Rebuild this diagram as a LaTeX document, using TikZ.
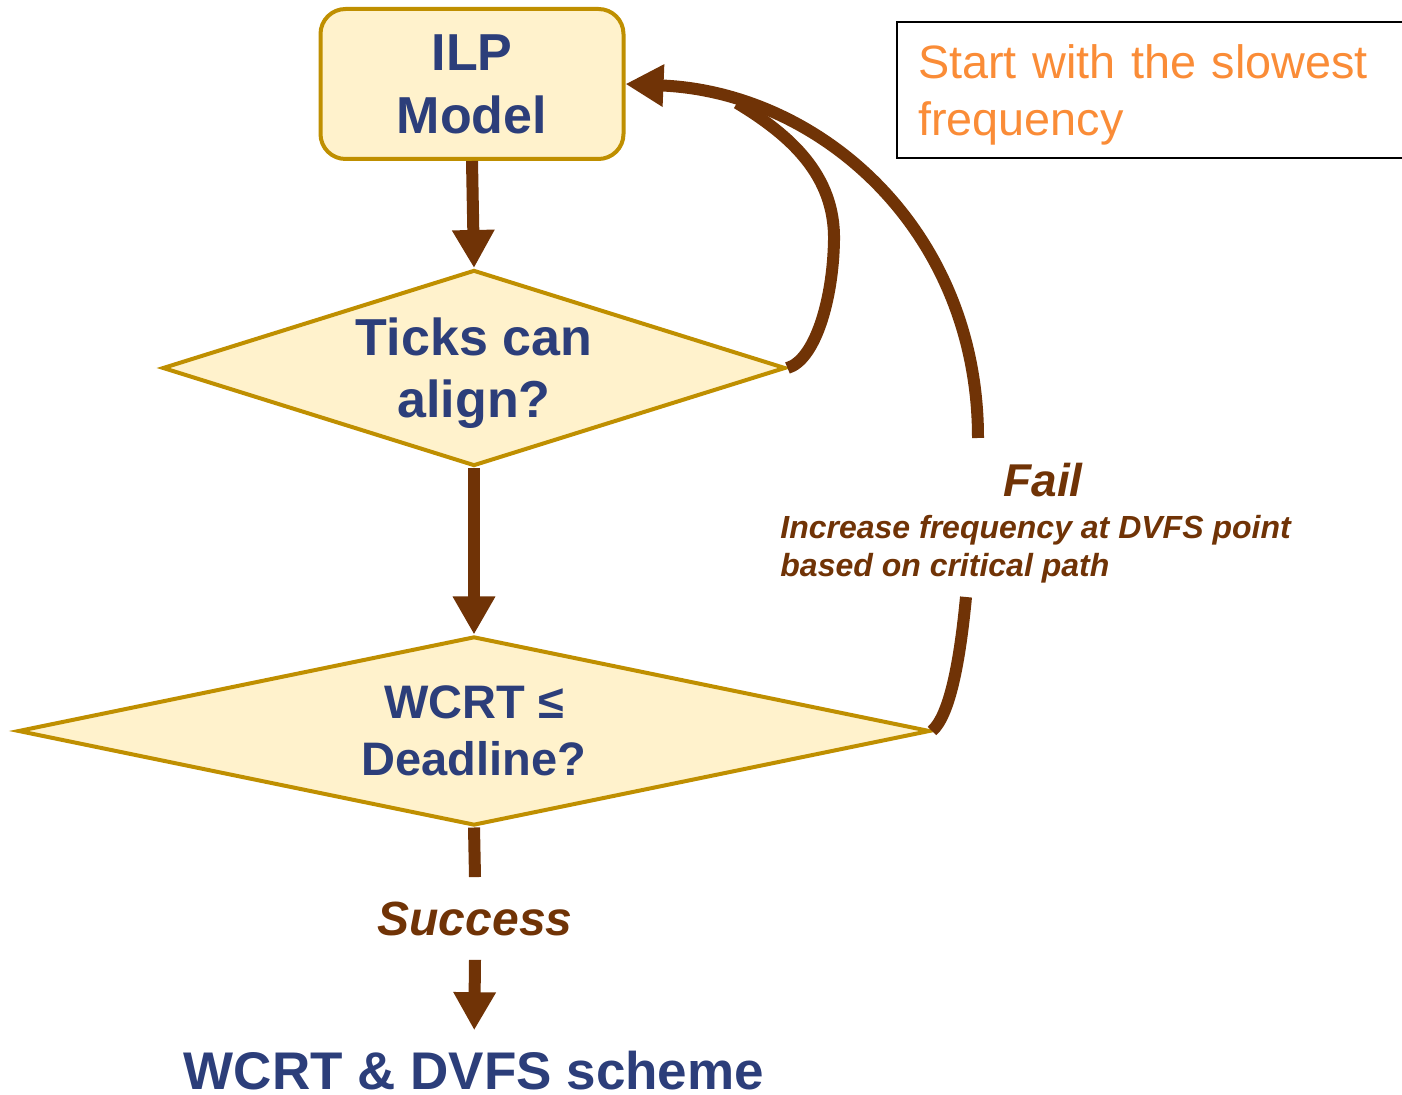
\documentclass[tikz,border=0pt]{standalone}
\usepackage{fontspec}
\setmainfont{Liberation Sans}
\usetikzlibrary{shapes.geometric,arrows.meta}
\definecolor{flowbrown}{RGB}{112,51,6}
\definecolor{boxedge}{RGB}{191,143,0}
\definecolor{boxfill}{RGB}{255,242,204}
\definecolor{labelblue}{RGB}{44,62,122}
\definecolor{noteorange}{RGB}{250,140,55}

\begin{document}
\begin{tikzpicture}[x=0.5pt,y=-0.5pt,
  flowbox/.style={draw=boxedge, fill=boxfill, line width=2pt, text=labelblue,
    align=center, inner sep=0pt},
  flowline/.style={draw=flowbrown, line width=6pt},
  flowarrow/.style={flowline, -{Triangle[length=19pt,width=20pt]}},
  brownlabel/.style={text=flowbrown},
  notebox/.style={draw=black, line width=1pt, text=noteorange, align=left,
    anchor=north west, inner xsep=10.5pt, text width=245pt,
    minimum height=68pt, font=\fontsize{23.4}{28.5}\selectfont},
  gaplabel/.style={anchor=base, inner xsep=0pt, inner ysep=12pt}
]
\useasboundingbox (0,0) rectangle (1402,1095);
\clip (0,0) rectangle (1402,1095);

% process steps
\node[flowbox, rounded corners=12.5pt, minimum width=151.5pt, minimum height=75pt,
  font=\fontsize{26}{31.5}\selectfont\bfseries] (ilp) at (472,84) {ILP\\Model};
\node[flowbox, diamond, aspect=3.18, minimum width=311.5pt, minimum height=98pt,
  text depth=0pt, font=\fontsize{26}{31}\selectfont\bfseries] (ticks) at (474,368)
  {Ticks can\\align?};
\node[flowbox, diamond, aspect=4.83, minimum width=456pt, minimum height=94.5pt,
  font=\fontsize{23.5}{28.5}\selectfont\bfseries] (wcrt) at (474,731) {WCRT ≤\\Deadline?};

% outcome labels
\node[gaplabel, brownlabel, font=\fontsize{24}{24}\selectfont\bfseries\itshape]
  (succ) at (475,935) {Success};
\node[anchor=base, inner sep=0pt, text=labelblue,
  font=\fontsize{26.5}{26.5}\selectfont\bfseries]
  (result) at (474,1089) {WCRT \& DVFS scheme};
\node[brownlabel, anchor=base, font=\fontsize{23}{23}\selectfont\bfseries\itshape]
  (failhead) at (1043,497) {Fail};
\node[brownlabel, align=left, anchor=north west, inner sep=0pt,
  font=\fontsize{16}{19}\selectfont\bfseries\itshape]
  (failnote) at (780,515) {Increase frequency at DVFS point\\based on critical path};

% side note
\node[notebox] (note) at (896,21)
  {\rule{0pt}{22pt}Start with the slowest\\frequency};

% loose ends of the feedback path
\coordinate (failtop) at (978,438);
\coordinate (failbot) at (966,597);
\coordinate (merge) at (737,103);

% main flow
\draw[flowarrow] (ilp.south) -- (ticks.north);
\draw[flowarrow] (ticks.south) -- (wcrt.north);
\draw[flowline] (wcrt.south) -- (succ.north);
\draw[flowarrow, shorten >=10pt] (succ.south) -- (result.north);

% feedback loops
\draw[flowline] (ticks.east) .. controls (815,360) and (833,300) .. (834,240)
  .. controls (835,175) and (790,135) .. (merge);
\draw[flowarrow] (failtop) .. controls (978,230) and (820,92) .. (ilp.east);
\draw[flowline] (wcrt.east) .. controls (950,715) and (960,660) .. (failbot);
\end{tikzpicture}
\end{document}
